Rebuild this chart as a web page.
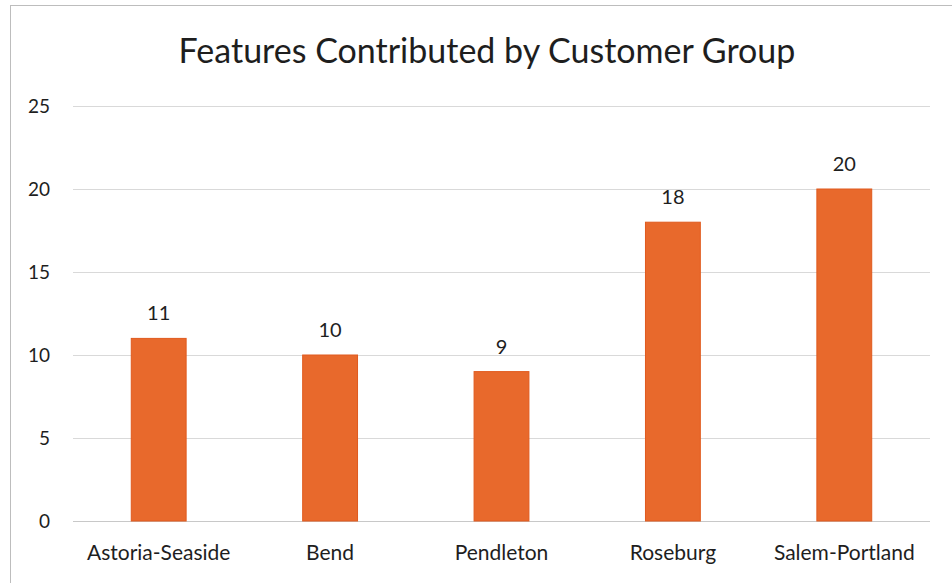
<!DOCTYPE html>
<html>
<head>
<meta charset="utf-8">
<script src="https://cdn.jsdelivr.net/npm/d3@7"></script>
<style>
  body { margin: 0; background: #fff; }
  text { font-family: Lato, "Open Sans", sans-serif; fill: #1e1e1e; }
</style>
</head>
<body>
<div id="chart"></div>
<script>
const categories = ["Astoria-Seaside", "Bend", "Pendleton", "Roseburg", "Salem-Portland"];
const values = [11, 10, 9, 18, 20];
const yTicks = [0, 5, 10, 15, 20, 25];
const title = "Features Contributed by Customer Group";

const width = 952;
const height = 583;
const margin = { top: 106, right: 22, bottom: 62, left: 73 };

const svg = d3
  .select("#chart")
  .append("svg")
  .attr("width", width)
  .attr("height", height);

// chart frame
svg
  .append("rect")
  .attr("x", 10.5)
  .attr("y", 5.5)
  .attr("width", width + 20)
  .attr("height", height + 20)
  .attr("fill", "none")
  .attr("stroke", "#bdbdbd");

const x = d3
  .scaleBand()
  .domain(categories)
  .range([margin.left, width - margin.right])
  .paddingInner(0.68)
  .paddingOuter(0.34);

const y = d3
  .scaleLinear()
  .domain([0, 25])
  .range([height - margin.bottom, margin.top]);

svg
  .append("text")
  .attr("x", 487)
  .attr("y", 63)
  .attr("text-anchor", "middle")
  .attr("font-size", 34)
  .text(title);

const grid = svg.append("g");

grid
  .selectAll("line")
  .data(yTicks)
  .join("line")
  .attr("x1", margin.left)
  .attr("x2", width - margin.right)
  .attr("y1", (d) => Math.round(y(d)) + 0.5)
  .attr("y2", (d) => Math.round(y(d)) + 0.5)
  .attr("stroke", (d) => (d === 0 ? "#c8c8c8" : "#d9d9d9"))
  .attr("stroke-width", 1);

svg
  .append("g")
  .selectAll("text")
  .data(yTicks)
  .join("text")
  .attr("x", 50)
  .attr("y", (d) => y(d))
  .attr("dy", "0.35em")
  .attr("text-anchor", "end")
  .attr("font-size", 19)
  .text((d) => d);

svg
  .append("g")
  .selectAll("rect")
  .data(values)
  .join("rect")
  .attr("x", (d, i) => x(categories[i]))
  .attr("y", (d) => y(d))
  .attr("width", x.bandwidth())
  .attr("height", (d) => y(0) - y(d))
  .attr("fill", "#e8692c")
  .attr("stroke", "#e05a1e")
  .attr("stroke-width", 1);

svg
  .append("g")
  .selectAll("text")
  .data(values)
  .join("text")
  .attr("x", (d, i) => x(categories[i]) + x.bandwidth() / 2)
  .attr("y", (d) => y(d) - 18)
  .attr("text-anchor", "middle")
  .attr("font-size", 20)
  .text((d) => d);

svg
  .append("g")
  .selectAll("text")
  .data(categories)
  .join("text")
  .attr("x", (d) => x(d) + x.bandwidth() / 2)
  .attr("y", height - margin.bottom + 39)
  .attr("text-anchor", "middle")
  .attr("font-size", 21)
  .text((d) => d);
</script>
</body>
</html>
